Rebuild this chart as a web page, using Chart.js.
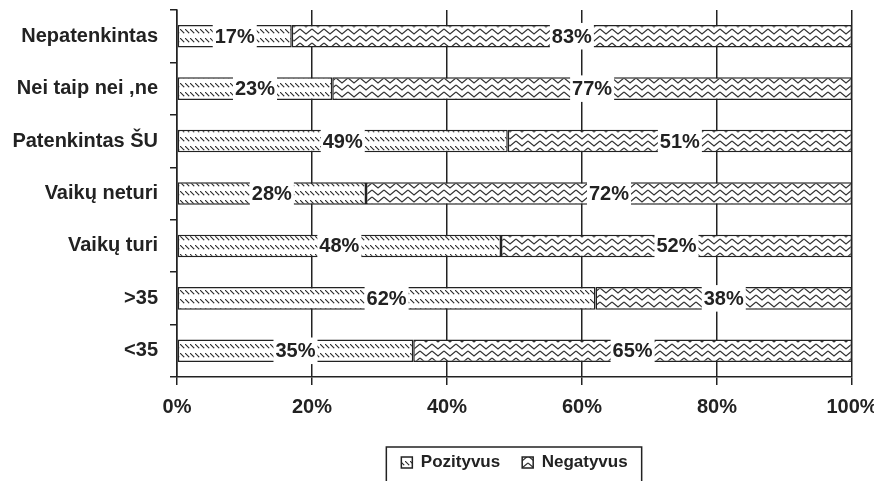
<!DOCTYPE html>
<html>
<head>
<meta charset="utf-8">
<script src="https://cdn.jsdelivr.net/npm/chart.js@4.4.1/dist/chart.umd.min.js"></script>
<style>
  body { margin: 0; background: #fff; }
  canvas { display: block; }
</style>
</head>
<body>
<canvas id="myChart" width="874" height="481"></canvas>
<script>
// data
const categories = ["Nepatenkintas", "Nei taip nei ,ne", "Patenkintas ŠU", "Vaikų neturi", "Vaikų turi", ">35", "<35"];
const pozityvus = [17, 23, 49, 28, 48, 62, 35];
const negatyvus = [83, 77, 51, 72, 52, 38, 65];
const xTicks = [0, 20, 40, 60, 80, 100];

const ink = "#222";
const fontFamily = "'Liberation Sans', Arial, sans-serif";

// hatch fills, like the old Excel patterns
function makeHatch() {
  const c = document.createElement("canvas");
  c.width = 5; c.height = 9;
  const g = c.getContext("2d");
  g.fillStyle = "#fff";
  g.fillRect(0, 0, 5, 9);
  g.fillStyle = "#333";
  for (let i = 0; i < 4; i++) g.fillRect(i, 2 + i, 1.3, 1.3);
  return g.createPattern(c, "repeat");
}

function makeZigzag() {
  const c = document.createElement("canvas");
  c.width = 12; c.height = 7;
  const g = c.getContext("2d");
  g.fillStyle = "#fff";
  g.fillRect(0, 0, 12, 7);
  g.strokeStyle = "#333";
  g.lineWidth = 1.2;
  g.beginPath();
  g.moveTo(0, 1);
  g.lineTo(6, 6);
  g.lineTo(12, 1);
  g.stroke();
  return g.createPattern(c, "repeat");
}

// percent labels on a white patch in the middle of each segment
const segmentLabels = {
  id: "segmentLabels",
  afterDatasetsDraw(chart) {
    const ctx = chart.ctx;
    ctx.save();
    ctx.font = "bold 20px " + fontFamily;
    ctx.textAlign = "center";
    ctx.textBaseline = "middle";
    chart.data.datasets.forEach((ds, di) => {
      const meta = chart.getDatasetMeta(di);
      meta.data.forEach((bar, i) => {
        const text = ds.data[i] + "%";
        const cx = (bar.x + bar.base) / 2;
        const w = ctx.measureText(text).width + 4;
        const h = bar.height + 4;
        ctx.fillStyle = "#fff";
        ctx.fillRect(cx - w / 2, bar.y - h / 2, w, h);
        ctx.fillStyle = ink;
        ctx.fillText(text, cx, bar.y + 1);
      });
    });
    ctx.restore();
  }
};

// frame around the legend
const legendFrame = {
  id: "legendFrame",
  afterDraw(chart) {
    const boxes = chart.legend.legendHitBoxes;
    if (!boxes || !boxes.length) return;
    const left = Math.min(...boxes.map(b => b.left)) - 15;
    const right = Math.max(...boxes.map(b => b.left + b.width)) + 14;
    const top = Math.min(...boxes.map(b => b.top)) - 7;
    const ctx = chart.ctx;
    ctx.save();
    ctx.strokeStyle = ink;
    ctx.lineWidth = 1.5;
    ctx.strokeRect(left, top, right - left, chart.height + 10 - top);
    ctx.restore();
  }
};

const ctx = document.getElementById("myChart").getContext("2d");
new Chart(ctx, {
  type: "bar",
  data: {
    labels: categories,
    datasets: [
      {
        label: "Pozityvus",
        data: pozityvus,
        backgroundColor: makeHatch(),
        borderColor: ink,
        borderWidth: 1.5,
        borderSkipped: false
      },
      {
        label: "Negatyvus",
        data: negatyvus,
        backgroundColor: makeZigzag(),
        borderColor: ink,
        borderWidth: 1.5,
        borderSkipped: false
      }
    ]
  },
  options: {
    indexAxis: "y",
    responsive: false,
    animation: false,
    categoryPercentage: 1,
    barPercentage: 0.43,
    layout: { padding: { top: 10, right: 22, left: 0, bottom: 0 } },
    scales: {
      x: {
        stacked: true,
        min: 0,
        max: 100,
        afterBuildTicks(scale) {
          scale.ticks = xTicks.map(v => ({ value: v }));
        },
        afterFit(scale) {
          scale.height = 55;
          scale.paddingLeft = 0;
          scale.paddingRight = 0;
        },
        ticks: {
          color: ink,
          font: { family: fontFamily, size: 20, weight: "bold" },
          padding: 10,
          maxRotation: 0,
          callback: v => v + "%"
        },
        grid: { color: ink, lineWidth: 1.5, tickLength: 8 },
        border: { color: ink, width: 1.5 }
      },
      y: {
        stacked: true,
        afterFit(scale) {
          scale.width = 177;
          scale.paddingTop = 0;
          scale.paddingBottom = 0;
        },
        ticks: {
          color: ink,
          font: { family: fontFamily, size: 20, weight: "bold" },
          padding: 12
        },
        grid: { color: ink, lineWidth: 1.5, drawOnChartArea: false, offset: true, tickLength: 7 },
        border: { color: ink, width: 1.5 }
      }
    },
    plugins: {
      tooltip: { enabled: false },
      legend: {
        position: "bottom",
        fullSize: false,
        labels: {
          color: ink,
          font: { family: fontFamily, size: 17, weight: "bold" },
          boxWidth: 11,
          boxHeight: 11,
          padding: 22
        }
      }
    }
  },
  plugins: [segmentLabels, legendFrame]
});
</script>
</body>
</html>
